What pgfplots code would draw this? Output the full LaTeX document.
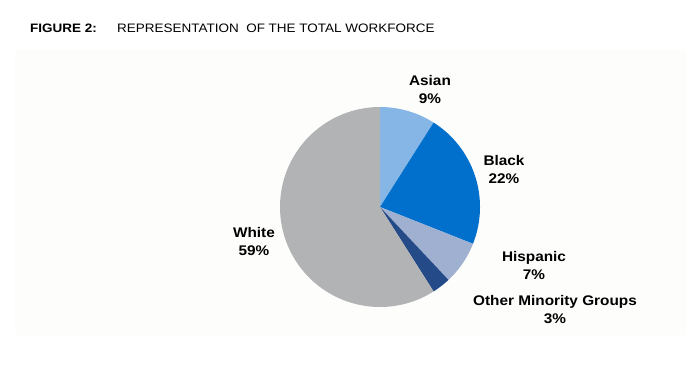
\documentclass[border=0pt]{standalone}
\usepackage{fontspec}
\setmainfont{Liberation Sans}
\newfontfamily\widefont[FakeStretch=1.1]{Liberation Sans}
\usepackage{pgfplots}
\usepackage{pgfplotstable}
\pgfplotsset{compat=1.18}
\definecolor{cAsian}{RGB}{133,182,230}
\definecolor{cBlack}{RGB}{0,112,204}
\definecolor{cHisp}{RGB}{160,176,208}
\definecolor{cOther}{RGB}{36,74,135}
\definecolor{cWhite}{RGB}{178,179,181}
\definecolor{panel}{RGB}{253,253,252}
\pgfplotstableread{
label value
Asian 9
Black 22
Hispanic 7
Other 3
White 59
}\piedata
\begin{document}
\begin{tikzpicture}
\pgfplotstablegetelem{0}{value}\of\piedata \let\vA\pgfplotsretval
\pgfplotstablegetelem{1}{value}\of\piedata \let\vB\pgfplotsretval
\pgfplotstablegetelem{2}{value}\of\piedata \let\vC\pgfplotsretval
\pgfplotstablegetelem{3}{value}\of\piedata \let\vD\pgfplotsretval
\pgfplotstablegetelem{4}{value}\of\piedata \let\vE\pgfplotsretval
\pgfmathsetmacro\aZ{90}
\pgfmathsetmacro\aA{\aZ-3.6*\vA}
\pgfmathsetmacro\aB{\aA-3.6*\vB}
\pgfmathsetmacro\aC{\aB-3.6*\vC}
\pgfmathsetmacro\aD{\aC-3.6*\vD}
\pgfmathsetmacro\aE{\aD-3.6*\vE}
\begin{axis}[
  scale only axis, width=698bp, height=366bp,
  xmin=0, xmax=698, ymin=0, ymax=366, y dir=reverse,
  hide axis, clip=false,
]
\path (axis cs:0,0) rectangle (axis cs:698,366);
\fill[panel] (axis cs:15,50) rectangle (axis cs:686,335);
\addplot[fill=cAsian, draw=none, domain=\aA:\aZ, samples=40, variable=\t] ({380+100*cos(\t)},{207-100*sin(\t)}) -- (axis cs:380,207) -- cycle;
\addplot[fill=cBlack, draw=none, domain=\aB:\aA, samples=60, variable=\t] ({380+100*cos(\t)},{207-100*sin(\t)}) -- (axis cs:380,207) -- cycle;
\addplot[fill=cHisp, draw=none, domain=\aC:\aB, samples=40, variable=\t] ({380+100*cos(\t)},{207-100*sin(\t)}) -- (axis cs:380,207) -- cycle;
\addplot[fill=cOther, draw=none, domain=\aD:\aC, samples=30, variable=\t] ({380+100*cos(\t)},{207-100*sin(\t)}) -- (axis cs:380,207) -- cycle;
\addplot[fill=cWhite, draw=none, domain=\aE:\aD, samples=120, variable=\t] ({380+100*cos(\t)},{207-100*sin(\t)}) -- (axis cs:380,207) -- cycle;
\node[anchor=base west, font=\widefont\fontsize{12.3}{14}\selectfont\bfseries, inner sep=0pt] at (axis cs:30,32) {FIGURE 2:};
\node[anchor=base west, font=\widefont\fontsize{12.3}{14}\selectfont, inner sep=0pt] at (axis cs:117,32) {REPRESENTATION\ \ OF THE TOTAL WORKFORCE};
\tikzset{lab/.style={align=center, font=\widefont\fontsize{14}{18}\selectfont\bfseries, inner sep=0pt}}
\node[lab, anchor=base] at (axis cs:430,103) {Asian\\9\%};
\node[lab, anchor=base] at (axis cs:504,183) {Black\\22\%};
\node[lab, anchor=base] at (axis cs:534,279) {Hispanic\\7\%};
\node[lab, anchor=base] at (axis cs:555,323) {Other Minority Groups\\3\%};
\node[lab, anchor=base] at (axis cs:254,255) {White\\59\%};
\end{axis}
\end{tikzpicture}
\end{document}
